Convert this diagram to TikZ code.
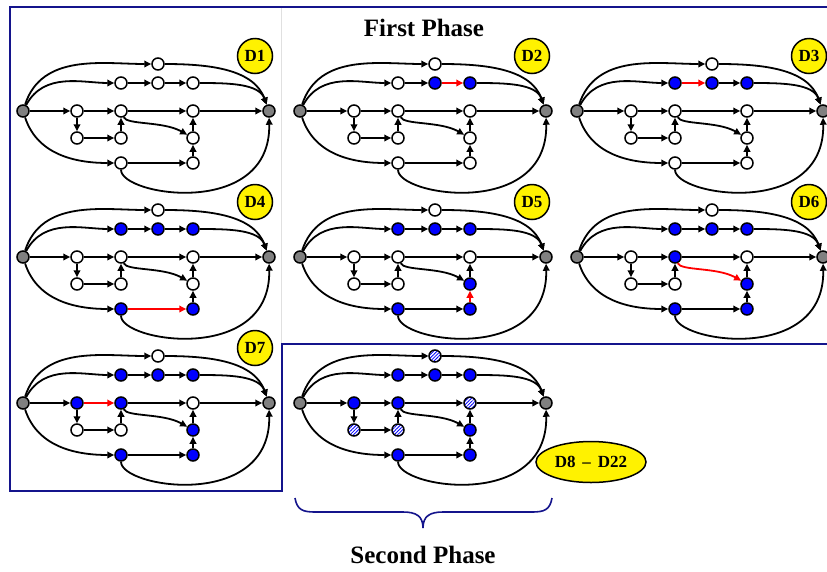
\documentclass[tikz,border=0pt]{standalone}
\usepackage{fontspec}
\setmainfont{Liberation Serif}
\usetikzlibrary{arrows.meta,patterns.meta,shapes.geometric}
\definecolor{navy}{RGB}{20,20,140}
\definecolor{midgray}{RGB}{128,128,128}
\tikzset{
  gn/.style={circle,draw=black,line width=1.5pt,minimum size=12pt,inner sep=0pt,fill=white},
  gend/.style={gn,fill=midgray},
  blu/.style={fill=blue},
  hat/.style={preaction={fill=white},pattern={Lines[angle=45,distance=2.4pt,line width=0.8pt]},pattern color=blue},
  ed/.style={line width=1.8pt,-{Triangle[length=7pt,width=6.5pt]}},
  hot/.style={draw=red},
  badge/.style={circle,draw=black,line width=1.5pt,fill=yellow,minimum size=35pt,inner sep=0pt,font=\fontsize{17}{20}\selectfont\bfseries},
  frameline/.style={draw=navy,line width=2pt},
  nT/.style={},nA1/.style={},nA2/.style={},nA3/.style={},
  nB1/.style={},nB2/.style={},nB3/.style={},
  nC1/.style={},nC2/.style={},nC3/.style={},
  nD1/.style={},nD2/.style={},
  eA12/.style={},eA23/.style={},eB12/.style={},eD12/.style={},eDtoC/.style={},eBtoC/.style={}
}
\newcommand{\dgraph}{%
  \node[gend] (S) at (0,0) {};
  \node[gend] (T) at (246,0) {};
  \node[gn,nT] (top) at (135,47) {};
  \node[gn,nA1] (a1) at (98,28) {};
  \node[gn,nA2] (a2) at (135,28) {};
  \node[gn,nA3] (a3) at (170,28) {};
  \node[gn,nB1] (b1) at (54,0) {};
  \node[gn,nB2] (b2) at (98,0) {};
  \node[gn,nB3] (b3) at (170,0) {};
  \node[gn,nC1] (c1) at (54,-27) {};
  \node[gn,nC2] (c2) at (98,-27) {};
  \node[gn,nC3] (c3) at (170,-27) {};
  \node[gn,nD1] (d1) at (98,-52) {};
  \node[gn,nD2] (d2) at (170,-52) {};
  \draw[ed] (S) to[out=72,in=180] (top);
  \draw[ed] (top) to[out=0,in=110] (T);
  \draw[ed] (S) to[out=62,in=180] (a1);
  \draw[ed,eA12] (a1) -- (a2);
  \draw[ed,eA23] (a2) -- (a3);
  \draw[ed] (a3) to[out=0,in=110] (T);
  \draw[ed] (S) -- (b1);
  \draw[ed,eB12] (b1) -- (b2);
  \draw[ed] (b2) -- (b3);
  \draw[ed] (b3) -- (T);
  \draw[ed] (b1) -- (c1);
  \draw[ed] (c1) -- (c2);
  \draw[ed] (c2) -- (b2);
  \draw[ed,eBtoC] (b2) .. controls (104,-14) and (140,-10) .. (c3);
  \draw[ed] (c3) -- (b3);
  \draw[ed,eDtoC] (d2) -- (c3);
  \draw[ed] (S) to[out=-72,in=180] (d1);
  \draw[ed,eD12] (d1) -- (d2);
  \draw[ed] (d1) .. controls (98,-85) and (248,-108) .. (T);
}
\begin{document}
\begin{tikzpicture}[x=1pt,y=1pt]
  \fill[white] (0,0) rectangle (827,-571);
  \useasboundingbox (0,0) rectangle (827,-571);
  % frames
  \draw[black!12,line width=0.8pt] (281,-8) -- (281,-343);
  \draw[frameline] (827,-7) -- (10,-7) -- (10,-491) -- (282,-491) -- (282,-344) -- (827,-344);
  \node (fp) at (424,-28) {\fontsize{25}{30}\selectfont\bfseries First Phase};
  \node (sp) at (423,-555) {\fontsize{25}{30}\selectfont\bfseries Second Phase};
  \draw[navy,line width=1.6pt] (295,-498) .. controls (297,-510) and (303,-512) .. (315,-512)
     -- (403,-512) .. controls (416,-512) and (423,-516) .. (423,-528)
     .. controls (423,-516) and (430,-512) .. (443,-512)
     -- (532,-512) .. controls (544,-512) and (550,-510) .. (552,-498);
  % panels
  \begin{scope}[shift={(23,-111)},name prefix=p1-]
    \dgraph \node[badge] (lab) at (232,55) {D1};
  \end{scope}
  \begin{scope}[shift={(300,-111)},name prefix=p2-,nA2/.style=blu,nA3/.style=blu,eA23/.style=hot]
    \dgraph \node[badge] (lab) at (232,55) {D2};
  \end{scope}
  \begin{scope}[shift={(577,-111)},name prefix=p3-,nA1/.style=blu,nA2/.style=blu,nA3/.style=blu,eA12/.style=hot]
    \dgraph \node[badge] (lab) at (232,55) {D3};
  \end{scope}
  \begin{scope}[shift={(23,-257)},name prefix=p4-,nA1/.style=blu,nA2/.style=blu,nA3/.style=blu,nD1/.style=blu,nD2/.style=blu,eD12/.style=hot]
    \dgraph \node[badge] (lab) at (232,55) {D4};
  \end{scope}
  \begin{scope}[shift={(300,-257)},name prefix=p5-,nA1/.style=blu,nA2/.style=blu,nA3/.style=blu,nD1/.style=blu,nD2/.style=blu,nC3/.style=blu,eDtoC/.style=hot]
    \dgraph \node[badge] (lab) at (232,55) {D5};
  \end{scope}
  \begin{scope}[shift={(577,-257)},name prefix=p6-,nA1/.style=blu,nA2/.style=blu,nA3/.style=blu,nD1/.style=blu,nD2/.style=blu,nC3/.style=blu,nB2/.style=blu,eBtoC/.style=hot]
    \dgraph \node[badge] (lab) at (232,55) {D6};
  \end{scope}
  \begin{scope}[shift={(23,-403)},name prefix=p7-,nA1/.style=blu,nA2/.style=blu,nA3/.style=blu,nD1/.style=blu,nD2/.style=blu,nC3/.style=blu,nB2/.style=blu,nB1/.style=blu,eB12/.style=hot]
    \dgraph \node[badge] (lab) at (232,55) {D7};
  \end{scope}
  \begin{scope}[shift={(300,-403)},name prefix=p8-,nA1/.style=blu,nA2/.style=blu,nA3/.style=blu,nD1/.style=blu,nD2/.style=blu,nC3/.style=blu,nB2/.style=blu,nB1/.style=blu,nT/.style=hat,nB3/.style=hat,nC1/.style=hat,nC2/.style=hat]
    \dgraph
  \end{scope}
  \node[ellipse,draw=black,line width=1.5pt,fill=yellow,minimum width=110pt,minimum height=41pt,inner sep=0pt,font=\fontsize{17}{20}\selectfont\bfseries] (rest) at (591,-462) {D8\hspace{0.4em}--\hspace{0.4em}D22};
\end{tikzpicture}
\end{document}
